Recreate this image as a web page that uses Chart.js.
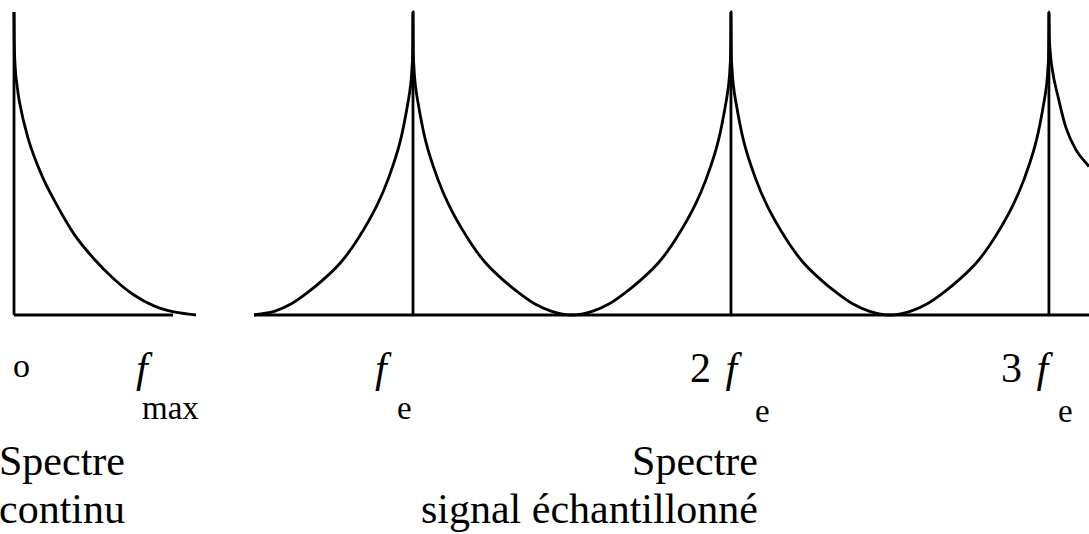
<!DOCTYPE html>
<html lang="fr">
<head>
<meta charset="utf-8">
<title>Spectre continu / signal échantillonné</title>
<script src="https://cdn.jsdelivr.net/npm/chart.js@4/dist/chart.umd.min.js"></script>
<style>
  html, body { margin: 0; padding: 0; background: #fff; }
  #page { position: relative; width: 1089px; height: 534px; overflow: hidden; color: #000; }
  canvas { position: absolute; top: 0; }
  #cont-chart { left: 0; width: 220px; height: 330px; }
  #ech-chart { left: 240px; width: 849px; height: 330px; }
  .lbl { position: absolute; white-space: nowrap; line-height: 1; font-family: "Liberation Serif", "DejaVu Serif", serif; }
  .big { font-size: 42px; }
  .sub { font-size: 33px; }
  .txt { font-size: 42px; }
  .lbl i { font-style: italic; }
  .gap { margin-left: 4px; }
</style>
</head>
<body>
<div id="page">
  <canvas id="cont-chart" width="220" height="330"></canvas>
  <canvas id="ech-chart" width="849" height="330"></canvas>

  <!-- frequency labels -->
  <div class="lbl" style="left:13px; top:349px; font-size:34px;">o</div>
  <div class="lbl big" style="left:136px; top:347px;"><i>f</i></div>
  <div class="lbl sub" style="left:142px; top:392px;">max</div>

  <div class="lbl big" style="left:375px; top:347px;"><i>f</i></div>
  <div class="lbl sub" style="left:397px; top:392px;">e</div>

  <div class="lbl big" style="left:690px; top:347px;">2 <i class="gap">f</i></div>
  <div class="lbl sub" style="left:755px; top:395px;">e</div>

  <div class="lbl big" style="left:1001px; top:347px;">3 <i class="gap">f</i></div>
  <div class="lbl sub" style="left:1058px; top:395px;">e</div>

  <!-- captions -->
  <div class="lbl txt" style="left:-1px; top:440px;">Spectre</div>
  <div class="lbl txt" style="left:-1px; top:488px;">continu</div>
  <div class="lbl txt" style="left:300px; width:458px; top:440px; text-align:right;">Spectre</div>
  <div class="lbl txt" style="left:300px; width:458px; top:488px; text-align:right;">signal échantillonné</div>
</div>

<script>
// continuous spectrum: distance from 0 (fraction of the band) and level
const contOffset = [0, 0.0014, 0.0066, 0.0165, 0.030, 0.077, 0.154, 0.220, 0.330, 0.440, 0.549, 0.659, 0.769, 0.879, 1];
const contLevel  = [1, 0.908, 0.818, 0.759, 0.703, 0.584, 0.459, 0.380, 0.267, 0.185, 0.119, 0.066, 0.030, 0.010, 0];
const contAxisEnd = 0.874;

// one lobe of the sampled spectrum: distance from n*fe (in fe units) and level
const lobeOffset = [0, 0.0006, 0.003, 0.008, 0.016, 0.039, 0.079, 0.113, 0.17, 0.226, 0.283, 0.333, 0.384, 0.434, 0.5];
const lobeLevel  = [1, 0.9, 0.818, 0.755, 0.70, 0.578, 0.446, 0.363, 0.257, 0.175, 0.116, 0.073, 0.036, 0.013, 0];

// right side of the last lobe, cut at the edge
const tailOffset = [0, 0.001, 0.004, 0.009, 0.031, 0.053, 0.085, 0.126];
const tailLevel  = [1, 0.93, 0.87, 0.82, 0.71, 0.62, 0.545, 0.49];

const harmonics = [1, 2, 3];
const echMin = 0.5;
const echMax = 3.126;

const lineColor = "#000";
const lineWidth = 2.8;

function seg(points) {
  return {
    data: points,
    borderColor: lineColor,
    borderWidth: lineWidth,
    pointRadius: 0,
    fill: false,
    clip: false,
    tension: 0,
  };
}

function curve(points) {
  const ds = seg(points);
  ds.cubicInterpolationMode = "monotone";
  return ds;
}

function baseOptions(xMin, xMax, padding) {
  return {
    responsive: false,
    animation: false,
    devicePixelRatio: 1,
    layout: { padding: padding },
    plugins: { legend: { display: false }, tooltip: { enabled: false } },
    scales: {
      x: { type: "linear", min: xMin, max: xMax, display: false },
      y: { type: "linear", min: 0, max: 1, display: false },
    },
  };
}

// ---- left: continuous spectrum ----
const contPoints = contOffset.map((u, i) => ({ x: u, y: contLevel[i] }));

new Chart(document.getElementById("cont-chart"), {
  type: "line",
  data: {
    datasets: [
      seg([{ x: 0, y: 0 }, { x: 0, y: 1 }]),
      seg([{ x: 0, y: 0 }, { x: contAxisEnd, y: 0 }]),
      curve(contPoints),
    ],
  },
  options: baseOptions(0, 1, { left: 14, top: 12, right: 24, bottom: 15 }),
});

// ---- right: sampled signal spectrum ----
const echPoints = [];
const last = harmonics[harmonics.length - 1];
harmonics.forEach((n, k) => {
  // rising side, from n - 0.5 up to n
  for (let i = lobeOffset.length - 1; i >= 0; i--) {
    if (k > 0 && i === lobeOffset.length - 1) continue; // zero already pushed by previous lobe
    echPoints.push({ x: n - lobeOffset[i], y: lobeLevel[i] });
  }
  // falling side
  const offs = n === last ? tailOffset : lobeOffset;
  const lev = n === last ? tailLevel : lobeLevel;
  for (let i = 1; i < offs.length; i++) {
    echPoints.push({ x: n + offs[i], y: lev[i] });
  }
});

const echSets = [
  seg([{ x: echMin, y: 0 }, { x: echMax, y: 0 }]),
  curve(echPoints),
];
harmonics.forEach(n => {
  echSets.push(seg([{ x: n, y: 0 }, { x: n, y: 1 }]));
});

new Chart(document.getElementById("ech-chart"), {
  type: "line",
  data: { datasets: echSets },
  options: baseOptions(echMin, echMax, { left: 14, top: 12, right: 0, bottom: 15 }),
});
</script>
</body>
</html>
